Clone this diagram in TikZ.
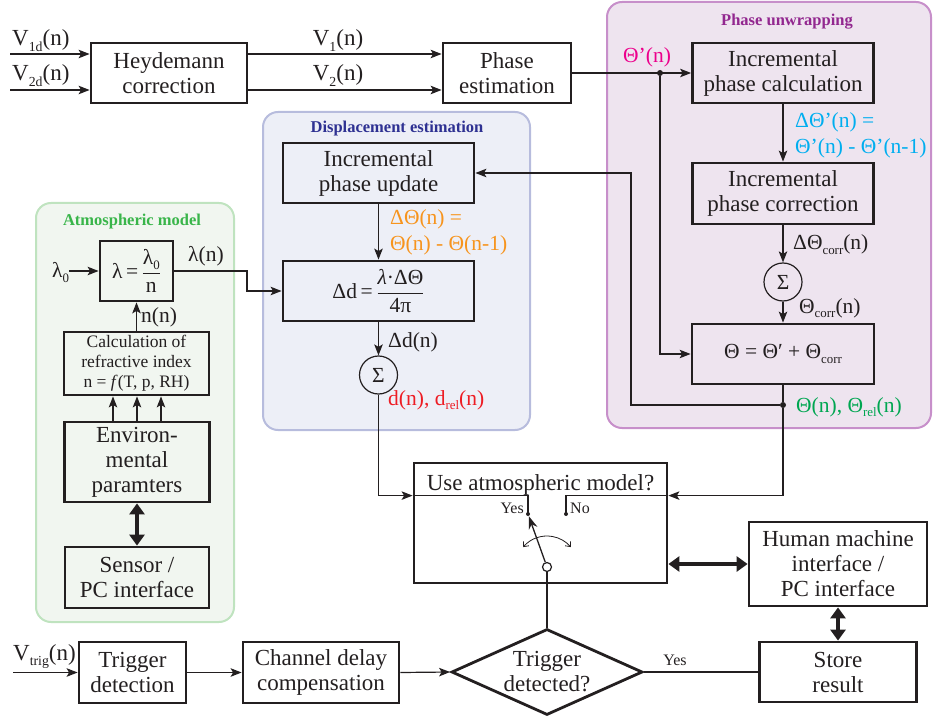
\documentclass[tikz,border=0pt]{standalone}
\usepackage{fontspec}
\setmainfont{Liberation Serif}
\usepackage{amsmath}
\usetikzlibrary{arrows.meta,shapes.geometric}

\definecolor{ink}{HTML}{231F20}
\definecolor{puline}{HTML}{C78FCA}
\definecolor{pufill}{HTML}{EEE4EF}
\definecolor{putitle}{HTML}{92278F}
\definecolor{deline}{HTML}{B7BCDD}
\definecolor{defill}{HTML}{EDEFF7}
\definecolor{detitle}{HTML}{2E3192}
\definecolor{atline}{HTML}{BFE3BF}
\definecolor{atfill}{HTML}{F1F6F0}
\definecolor{attitle}{HTML}{39B54A}
\definecolor{cmag}{HTML}{EC008C}
\definecolor{ccyan}{HTML}{00AEEF}
\definecolor{corange}{HTML}{F7941D}
\definecolor{cred}{HTML}{ED1C24}
\definecolor{cgreen}{HTML}{00A651}

\newcommand\fsbox{\fontsize{23}{25}\selectfont}
\newcommand\fslbl{\fontsize{21.5}{26}\selectfont}
\newcommand\fscalc{\fontsize{17.5}{20}\selectfont}
\newcommand\fssmall{\fontsize{16}{18}\selectfont}
\newcommand\fstitle{\fontsize{16.5}{18}\selectfont\bfseries}
\newcommand\lowidx[1]{\raisebox{-0.5ex}{\scalebox{0.6}{#1}}}

\tikzset{
  box/.style={draw=ink, line width=2.8pt, inner sep=0pt, align=center,
    font=\fsbox, text=ink},
  wire/.style={draw=ink, line width=1.2pt},
  arr/.style={wire, -{Stealth[length=11pt,width=8.5pt,inset=2.5pt]}},
  bigarr/.style={draw=ink, line width=4pt,
    {Triangle[length=11pt,width=15pt]}-{Triangle[length=11pt,width=15pt]}},
  jdot/.style={circle, fill=ink, inner sep=0pt, minimum size=6pt},
  region/.style={rounded corners=15pt, line width=2pt},
  rtitle/.style={font=\fstitle, inner sep=0pt, anchor=base},
  sumnode/.style={circle, draw=ink, line width=1.2pt, minimum size=38pt,
    inner sep=0pt, font=\fslbl, text=ink},
  lbl/.style={font=\fslbl, inner sep=0pt, text=ink, anchor=base west, align=left},
}

\begin{document}
\begin{tikzpicture}[x=1pt,y=-1pt]
\useasboundingbox (0,0) rectangle (934,719);

% grouping panels
\draw[region, draw=puline, fill=pufill] (607,2) rectangle (931,428);
\draw[region, draw=deline, fill=defill] (263,112) rectangle (530,430);
\draw[region, draw=atline, fill=atfill] (36,203) rectangle (234,622);
\node[rtitle, text=putitle] (putl) at (787,26) {Phase unwrapping};
\node[rtitle, text=detitle] (detl) at (397,133) {Displacement estimation};
\node[rtitle, text=attitle] (attl) at (132,226) {Atmospheric model};

% processing blocks
\node[box, minimum width=156pt, minimum height=60pt] (heyd) at (169,73) {Heydemann\\correction};
\node[box, minimum width=128pt, minimum height=60pt] (phest) at (507,73) {Phase\\estimation};
\node[box, minimum width=181pt, minimum height=60pt] (ipc) at (783,73) {Incremental\\phase calculation};
\node[box, minimum width=181pt, minimum height=61pt] (ipcorr) at (783,193.5) {Incremental\\phase correction};
\node[sumnode] (sum1) at (783,282) {Σ};
\node[box, minimum width=182pt, minimum height=60pt, font=\fslbl] (theta) at (783,354) {Θ = Θ′ + Θ\lowidx{corr}};
\node[box, minimum width=191pt, minimum height=60pt] (ipu) at (378.5,173) {Incremental\\phase update};
\node[box, minimum width=191pt, minimum height=60pt, font=\fslbl] (dd) at (378.5,291)
  {Δd\,=\,$\dfrac{\mbox{\textit{λ}·ΔΘ}}{\mbox{4π}}$};
\node[sumnode] (sum2) at (378.5,375) {Σ};
\node[box, minimum width=73pt, minimum height=60pt, font=\fslbl] (lam) at (136.5,271)
  {λ\,=\,$\dfrac{\mbox{λ\lowidx{0}}}{\mbox{n}}$};
\node[box, minimum width=145pt, minimum height=63pt, font=\fscalc] (calc) at (136.5,363.5)
  {Calculation of\\refractive index\\n = \textit{f}(T, p, RH)};
\node[box, minimum width=145pt, minimum height=80pt] (env) at (137,462) {Environ-\\mental\\paramters};
\node[box, minimum width=144pt, minimum height=61pt] (sensor) at (137,577.5) {Sensor /\\PC interface};
\node[box, minimum width=253pt, minimum height=120pt] (switch) at (540.5,523) {};
\node[font=\fsbox, text=ink, inner sep=0pt, anchor=base] (swtitle) at (540.5,490) {Use atmospheric model?};
\node[box, minimum width=178pt, minimum height=84pt] (hmi) at (838,564) {Human machine\\interface /\\PC interface};
\node[box, minimum width=157pt, minimum height=60pt] (store) at (838,672) {Store\\result};
\node[box, minimum width=107pt, minimum height=61pt] (trig) at (132.5,672.5) {Trigger\\detection};
\node[box, minimum width=156pt, minimum height=61pt] (chan) at (321,672.5) {Channel delay\\compensation};
\node[draw=ink, line width=2.8pt, diamond, minimum width=191pt, minimum height=86pt, inner sep=0pt] (dia) at (547,672) {};
\node[font=\fsbox, text=ink, align=center, inner sep=0pt] (diatext) at (dia.center) {Trigger\\detected?};

% input signals
\coordinate (v1in) at (10,54);
\coordinate (v2in) at (10,90);
\coordinate (vtin) at (13,672.5);
\draw[arr] (v1in) -- (v1in -| heyd.west);
\draw[arr] (v2in) -- (v2in -| heyd.west);
\draw[arr] (vtin) -- (trig.west);
\node[lbl, font=\fsbox] (v1dl) at (12,46) {V\lowidx{1d}(n)};
\node[lbl, font=\fsbox] (v2dl) at (12,81) {V\lowidx{2d}(n)};
\node[lbl, font=\fsbox] (vtl) at (13,660) {V\lowidx{trig}(n)};

% Heydemann to phase estimation
\draw[arr] (v1in -| heyd.east) -- (v1in -| phest.west);
\draw[arr] (v2in -| heyd.east) -- (v2in -| phest.west);
\node[lbl, font=\fsbox, anchor=base] (v1l) at (338,46) {V\lowidx{1}(n)};
\node[lbl, font=\fsbox, anchor=base] (v2l) at (338,81) {V\lowidx{2}(n)};

% phase unwrapping chain
\node[jdot] (tdot) at (660,73) {};
\draw[arr] (phest.east) -- (ipc.west);
\node[lbl, text=cmag] (tpl) at (623,63) {Θ’(n)};
\draw[arr] (tdot) |- (theta.west);
\draw[arr] (ipc.south) -- (ipcorr.north);
\node[lbl, text=ccyan] (dtpl) at (795,154) {ΔΘ’(n) =\\Θ’(n) - Θ’(n-1)};
\draw[arr] (ipcorr.south) -- (sum1.north);
\node[lbl] (dtcl) at (793,250) {ΔΘ\lowidx{corr}(n)};
\draw[arr] (sum1.south) -- (theta.north);
\node[lbl] (tcl) at (799,313) {Θ\lowidx{corr}(n)};
\node[jdot] (gdot) at (783,405) {};
\draw[wire] (theta.south) -- (gdot);
\node[lbl, text=cgreen] (thl) at (796,412) {Θ(n), Θ\lowidx{rel}(n)};

% feedback into the displacement estimation
\coordinate (fbk) at (631,173);
\draw[arr] (gdot) -| (fbk) -- (ipu.east);
\draw[arr] (ipu.south) -- (dd.north);
\node[lbl, text=corange] (dtl) at (390,251) {ΔΘ(n) =\\Θ(n) - Θ(n-1)};
\draw[arr] (dd.south) -- (sum2.north);
\node[lbl] (ddl) at (388,347) {Δd(n)};
\node[lbl, text=cred] (dl) at (388,405) {d(n), d\lowidx{rel}(n)};

% atmospheric model
\node[lbl] (lam0) at (52,278) {λ\lowidx{0}};
\draw[arr] (lam0.east |- lam.west) -- (lam.west);
\coordinate (lbend) at (247,291);
\draw[arr] (lam.east) -| (lbend) -- (dd.west);
\node[lbl] (laml) at (188,262) {λ(n)};
\draw[arr] (calc.north) -- (lam.south);
\node[lbl] (nnl) at (141,323) {n(n)};
\foreach \dx in {-24,0,24}
  \draw[arr] ([xshift=\dx pt]env.north) -- ([xshift=\dx pt]env.north |- calc.south);
\draw[bigarr] (env.south) -- (sensor.north);

% switch
\coordinate (swl) at ([yshift=-34pt]switch.north west);
\coordinate (swr) at ([yshift=-34pt]switch.north east);
\draw[arr] (sum2.south) |- (swl);
\draw[arr] (gdot) |- (swr);
\node[jdot, minimum size=4pt] (cyes) at (528,514) {};
\node[jdot, minimum size=4pt] (cno) at (566,514) {};
\draw[wire] (swl) -| (cyes.center);
\draw[wire] (swr) -| (cno.center);
\node[font=\fssmall, text=ink, inner sep=0pt, anchor=base east] (yesl) at (524,513) {Yes};
\node[font=\fssmall, text=ink, inner sep=0pt, anchor=base west] (nol) at (570,513) {No};
\node[circle, draw=ink, fill=white, line width=1.2pt, minimum size=9pt, inner sep=0pt] (piv) at (547,567) {};
\draw[ink, line width=1.3pt, -{Stealth[length=13pt,width=9pt]}] (piv) -- (cyes);
\draw[ink, line width=0.8pt, {Straight Barb[length=4pt,width=7pt]}-{Straight Barb[length=4pt,width=7pt]}]
  ([shift={(140:31pt)}]piv.center) arc[start angle=140, end angle=40, radius=31pt];
\draw[wire] (piv.south) -- (dia.north);
\draw[bigarr] (switch.east |- hmi.west) -- (hmi.west);
\draw[bigarr] (hmi.south) -- (store.north);

% trigger path
\draw[arr] (trig.east) -- (chan.west);
\draw[arr] (chan.east) -- (dia.west);
\draw[wire] (dia.east) -- (store.west);
\node[font=\fssmall, text=ink, inner sep=0pt, anchor=base] (dyes) at (675,665) {Yes};
\end{tikzpicture}
\end{document}
